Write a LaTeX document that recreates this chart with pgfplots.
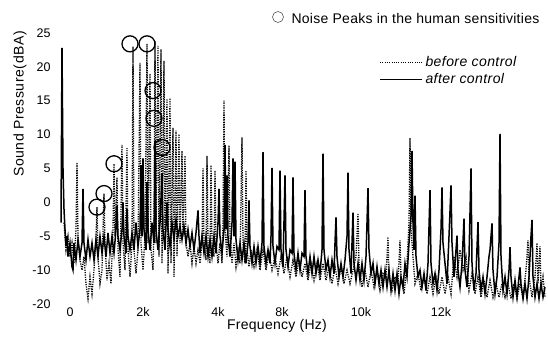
\documentclass[border=0pt]{standalone}
\usepackage{fontspec}
\setmainfont{Liberation Sans}
\usepackage{pgfplots}
\pgfplotsset{compat=1.18}
\begin{document}
\begin{tikzpicture}[x=1pt,y=1pt]
\useasboundingbox (0,0) rectangle (548,338);
\begin{axis}[
  at={(58pt,34pt)}, anchor=south west,
  scale only axis, width=488pt, height=271pt,
  xmin=-324, xmax=12852, ymin=-15, ymax=25,
  axis line style={draw=none}, tick style={draw=none},
  scaled x ticks=false, scaled y ticks=false,
  xtick={0,1971,3996,5724,7857,10017},
  xticklabels={0,2k,4k,8k,10k,12k},
  ytick={-15,-10,-5,0,5,10,15,20,25},
  yticklabels={-20,-10,-5,0,5,10,15,20,25},
  yticklabel style={xshift=-4pt},
  ticklabel style={font=\fontsize{12.5}{14}\selectfont},
  /pgf/number format/assume math mode=true,
  clip=true,
]
% before control (dotted)
\addplot[black, line width=1.3pt, dash pattern=on 1.2pt off 1.2pt] coordinates {
(-162,-3) (-108,-7) (-54,-5) (0,-8) (54,-6) (108,-9) (162,-4) (189,5.9) (216,-5) (270,-8.5)
(324,-10) (378,-8) (432,-12) (486,-14.2) (540,-11) (594,-13.5) (648,-10) (702,-5) (729,-0.7) (756,-8)
(810,-12) (864,-10) (918,1.3) (945,-6) (999,-11.5) (1053,-9) (1107,-12) (1161,-4) (1188,5.7) (1215,-5)
(1269,3.7) (1296,-7) (1350,-11) (1404,8.5) (1431,-6) (1485,-10) (1539,8) (1566,-7) (1620,-11) (1674,-6)
(1701,23) (1728,-7) (1782,-10.5) (1836,-7) (1890,20.6) (1917,-6) (1971,-10) (2025,-5) (2079,23.4) (2106,-6)
(2160,19) (2187,-7) (2241,-10) (2268,-4) (2295,23.8) (2322,-6) (2376,23.1) (2403,-8) (2457,22.6) (2484,-9)
(2538,20.9) (2565,-7) (2619,15.3) (2646,-10.5) (2700,15.4) (2727,-9) (2781,11) (2808,-11) (2862,10.6) (2889,-8)
(2943,10.1) (2970,-6) (3024,7.6) (3051,-5) (3105,6.9) (3132,-6) (3186,-8) (3240,-6) (3294,-9) (3348,-6.5)
(3402,-9) (3456,-7) (3510,-9) (3564,-6) (3591,5) (3618,-6) (3672,-8.5) (3699,6.9) (3726,-6) (3780,-9)
(3807,5.5) (3834,-6) (3888,-8) (3915,4.7) (3942,-6) (3996,-9) (4050,-6) (4104,-9) (4131,-3) (4158,15)
(4185,-4) (4239,-8) (4293,8.4) (4320,-5) (4374,-9) (4428,-6) (4482,-9.5) (4536,-7) (4590,-9) (4644,9.6)
(4671,-6) (4725,-9) (4752,4.7) (4779,-7) (4833,-9.5) (4887,-7) (4968,-9.5) (5049,-7) (5130,-10) (5211,-7)
(5292,-10) (5373,-7.5) (5454,-10) (5535,-8) (5616,-10.5) (5697,-8) (5778,-10.5) (5859,-8) (5940,-11) (6021,-8.5)
(6102,-11) (6183,-8.5) (6264,-11) (6345,-9) (6426,-11.5) (6507,-9) (6588,-11.5) (6669,-9) (6750,-11.5) (6831,-9)
(6912,-11.5) (6993,-9.5) (7074,-12) (7155,-9.5) (7236,-12) (7317,-9.5) (7398,-12) (7479,-10) (7560,-12) (7641,-10)
(7722,-8) (7776,-1.6) (7803,-9) (7884,-12.5) (7965,-10) (8046,-12.5) (8127,-10) (8208,-12.5) (8289,-10) (8370,-13)
(8451,-10.5) (8532,-11) (8586,-5.1) (8613,-11) (8694,-13) (8775,-11) (8856,-12) (8910,-5.6) (8937,-11) (9018,-13.5)
(9099,-9) (9153,-3) (9180,9.5) (9207,-4) (9261,-8) (9315,-12) (9396,-10.5) (9477,-13) (9558,-11) (9639,-13.5)
(9720,-11) (9801,-13.5) (9882,-11) (9963,-13.5) (10044,-11) (10125,-13.5) (10206,-11) (10287,-13.5) (10368,-8) (10449,-11)
(10530,-7) (10611,-10) (10692,-8) (10773,-13) (10854,-10.5) (10935,-13.5) (11016,-11) (11097,-14) (11178,-11.5) (11259,-14)
(11340,-11.5) (11421,-14) (11502,-12) (11583,-14) (11664,-12) (11745,-14) (11826,-12) (11907,-14.2) (11988,-12) (12069,-14.2)
(12150,-12) (12231,-14) (12312,-10) (12366,-5.6) (12393,-11) (12474,-14) (12555,-11) (12609,-6) (12636,-12) (12690,-6.5)
(12717,-13) (12771,-11) (12825,-14)
};
% after control (solid)
\addplot[black, line width=1.5pt] coordinates {
(-243,-3) (-216,22.8) (-189,5) (-162,-1) (-135,-4) (-108,-6.5) (-81,-5) (-54,-8) (0,-6) (54,-9.5)
(81,-10) (108,-6) (162,-8.5) (216,-5.5) (270,-8) (324,-6) (351,2) (378,-6) (432,-8.5) (486,-5.5)
(540,-8) (594,-6) (648,-8.5) (702,-5.5) (756,-8) (810,-5) (864,-7.5) (918,-5) (972,-8) (1026,-4.5)
(1080,-7.5) (1134,-5) (1188,-7.5) (1242,-4) (1269,-0.5) (1296,-5) (1350,-7) (1404,-4) (1431,0) (1458,-5)
(1512,-7.5) (1539,-1) (1566,-5) (1620,-7) (1674,-4.5) (1728,-7) (1782,-3) (1836,-6.5) (1890,-4) (1917,5.5)
(1944,-5) (1971,6.5) (1998,-4) (2052,-7) (2079,3) (2106,-4) (2160,-7) (2214,-3) (2268,-6) (2295,9.1)
(2322,-4) (2376,-7) (2430,-3) (2484,4.3) (2511,-4) (2565,-7) (2619,0) (2646,-4) (2700,-6.5) (2754,-3)
(2808,-5.5) (2862,-2.5) (2916,-5) (2970,-3.5) (3024,-5.5) (3078,-3.5) (3132,-6) (3186,-4) (3240,-6.5) (3294,-4.5)
(3348,-7) (3402,-4.5) (3456,-1.2) (3483,-5) (3510,-7.5) (3564,-5) (3618,-7.5) (3672,-5) (3726,-8) (3780,-5.5)
(3834,-8) (3888,-5) (3942,-7.5) (3996,-3) (4023,2) (4050,-5) (4104,-7.5) (4158,-4) (4185,8.5) (4212,-4)
(4239,4) (4266,-5) (4320,-8) (4374,-3) (4401,6.5) (4428,-5) (4455,6) (4482,-5.5) (4536,-8.5) (4590,-6)
(4644,-8.5) (4698,-6) (4752,-9) (4806,-6) (4833,0.3) (4860,-6.5) (4914,-9) (4968,-6.5) (5022,-9) (5076,-6.5)
(5130,-9) (5184,-6) (5211,7.4) (5238,-6.5) (5292,-9) (5346,-7) (5400,-9) (5427,-5) (5454,5.1) (5481,-6.5)
(5535,-9) (5589,-6.5) (5643,-7) (5670,4.7) (5697,-7) (5751,-9.5) (5805,4) (5832,-7) (5886,-9.5) (5940,-7)
(5994,-7.5) (6021,3.7) (6048,-7.5) (6102,-10) (6156,-7.5) (6210,-10) (6264,-7.5) (6318,-8) (6345,1.8) (6372,-8)
(6426,-10.5) (6480,-8) (6534,-10.5) (6588,-8) (6642,-10.5) (6696,-8.5) (6750,-10.5) (6804,-7) (6831,7.2) (6858,-7)
(6912,-10) (6966,-8.5) (7020,-11) (7074,-8.5) (7128,-10.5) (7155,-6) (7182,-2.2) (7209,-8) (7263,-11) (7317,-9)
(7371,-11) (7425,-8.5) (7479,-5) (7506,4.4) (7533,-7) (7587,-10.5) (7641,-1.5) (7668,-9) (7722,-11.5) (7776,-9)
(7830,-11.5) (7884,-9) (7938,-11.5) (7992,-8) (8019,-3) (8046,2.1) (8073,-7) (8127,-10.5) (8181,-9) (8235,-12)
(8289,-9.5) (8343,-12) (8397,-10) (8451,-12.5) (8505,-10) (8559,-12.5) (8613,-10) (8667,-13) (8721,-10.5) (8775,-13)
(8829,-10.5) (8883,-13.5) (8937,-11) (8991,-12.5) (9045,-9) (9099,-11) (9153,-6) (9207,-2) (9234,7.6) (9261,-3)
(9288,-7) (9315,1) (9342,-8) (9396,-11) (9450,-10) (9504,-12.5) (9558,-10.5) (9612,-13) (9666,-9) (9720,1.8)
(9747,-9) (9801,-12) (9855,-10.5) (9909,-13) (9963,-10) (10017,-4) (10044,2.2) (10071,-6) (10125,-9) (10179,-12)
(10233,-5) (10287,2.5) (10314,-6) (10368,-11) (10422,-7) (10449,-4.9) (10476,-10) (10530,-12.5) (10584,-9) (10638,-2.4)
(10665,-10) (10719,-12.5) (10773,-8) (10827,5) (10854,-9) (10908,-13) (10962,-10.5) (11016,-2.9) (11043,-10) (11097,-13)
(11151,-11) (11205,-13.5) (11259,-11) (11313,-8) (11340,-7) (11394,-3.1) (11421,-10) (11475,-13.5) (11529,-11) (11583,-6)
(11610,10.1) (11637,-8) (11691,-13) (11745,-11) (11799,-13.5) (11853,-10) (11880,-6.6) (11907,-11) (11961,-14) (12015,-11.5)
(12069,-14) (12123,-11) (12150,-9.6) (12177,-12) (12231,-14.2) (12285,-12) (12339,-14.2) (12393,-11) (12447,-5) (12474,-2.6)
(12501,-11) (12555,-14) (12609,-12) (12663,-14.2) (12717,-12) (12771,-14) (12825,-12.5)
};
% noise peaks in the human sensitivities
\addplot[only marks, mark=o, mark size=8pt, mark options={line width=1.3pt, black}] coordinates {
(1620,23.4) (2079,23.4) (2241,16.5) (2268,12.4) (2484,8.1) (1188,5.7) (918,1.3) (729,-0.7)
};
\end{axis}
% axis titles
\node[rotate=90, font=\fontsize{14}{16}\selectfont\addfontfeatures{LetterSpace=4}] at (20,234) {Sound Pressure(dBA)};
\node[font=\fontsize{14}{16}\selectfont\addfontfeatures{LetterSpace=2}] at (277,12) {Frequency (Hz)};
% legends
\draw[line width=0.6pt, gray!70!black] (278,321) circle (5.5);
\node[anchor=west, font=\fontsize{14}{16}\selectfont\addfontfeatures{LetterSpace=2}] at (288,320) {Noise Peaks in the human sensitivities};
\draw[black, line width=0.9pt, dash pattern=on 1pt off 1.3pt] (380,276) -- (422,276);
\node[anchor=west, font=\fontsize{14}{16}\selectfont\itshape\addfontfeatures{LetterSpace=3}] at (422,277) {before control};
\draw[black, line width=0.9pt] (380,259) -- (422,259);
\node[anchor=west, font=\fontsize{14}{16}\selectfont\itshape\addfontfeatures{LetterSpace=3}] at (422,260) {after control};
\end{tikzpicture}
\end{document}
